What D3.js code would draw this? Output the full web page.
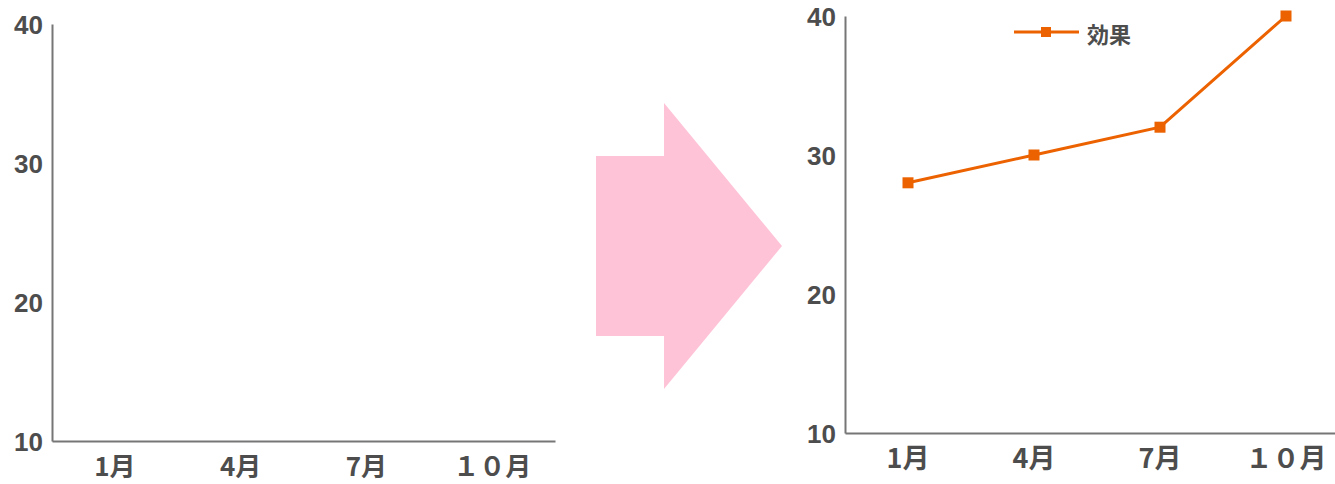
<!DOCTYPE html>
<html><head><meta charset="utf-8">
<script src="https://cdn.jsdelivr.net/npm/d3@7"></script>
<style>
html,body{margin:0;padding:0;background:#fff;}
svg{display:block;}
text{font-family:"Noto Sans CJK JP","Noto Sans",sans-serif;font-weight:700;fill:#4d4d4d;}
.ytick text{font-family:"Liberation Sans",Arial,sans-serif;}
</style></head>
<body>
<svg id="c" width="1335" height="484"></svg>
<script>
const categories = ["1月", "4月", "7月", "１０月"];
const effectValues = [28, 30, 32, 40];
const yTicks = [10, 20, 30, 40];
const seriesName = "効果";

const svg = d3.select("#c");
const axisColor = "#767676";
const lineColor = "#ec6200";

function drawAxes(g, x, y, xLabelOffset, xFont) {
  // y axis
  const ya = g.append("g").attr("class", "ytick").attr("transform", `translate(${x.range()[0]},0)`)
    .call(d3.axisLeft(y).tickValues(yTicks).tickSize(0).tickPadding(9).tickFormat(d3.format("d")));
  ya.select(".domain").attr("stroke", axisColor).attr("stroke-width", 2);
  ya.selectAll("text").style("font-size", "26px").attr("dy", "0.36em").attr("fill", "#4d4d4d");
  // x axis
  const xa = g.append("g").attr("transform", `translate(0,${y.range()[0]})`)
    .call(d3.axisBottom(x).tickSize(0).tickPadding(xLabelOffset));
  xa.select(".domain").attr("stroke", axisColor).attr("stroke-width", 2);
  xa.selectAll("text").style("font-size", xFont + "px").attr("dy", "0.36em").attr("fill", "#4d4d4d");
}

// Left (empty) chart
const xL = d3.scaleBand().domain(categories).range([52, 555]);
const yL = d3.scaleLinear().domain([10, 40]).range([441, 24]);
drawAxes(svg.append("g"), xL, yL, 26, 26);

// Arrow
const arrow = d3.path();
arrow.moveTo(596, 156); arrow.lineTo(664, 156); arrow.lineTo(664, 103);
arrow.lineTo(782, 246); arrow.lineTo(664, 389); arrow.lineTo(664, 336);
arrow.lineTo(596, 336); arrow.closePath();
svg.append("path").attr("d", arrow.toString()).attr("fill", "#ffc3d8");

// Right chart
const xR = d3.scaleBand().domain(categories).range([845, 1349]);
const yR = d3.scaleLinear().domain([10, 40]).range([433, 16]);
const gR = svg.append("g");
drawAxes(gR, xR, yR, 25, 27);

const pts = categories.map((c, i) => ({c, v: effectValues[i]}));
const line = d3.line().x(d => xR(d.c) + xR.bandwidth() / 2).y(d => yR(d.v));
gR.append("path").datum(pts).attr("d", line).attr("fill", "none")
  .attr("stroke", lineColor).attr("stroke-width", 3);
const ms = 11;
gR.selectAll("rect.m").data(pts).enter().append("rect").attr("class", "m")
  .attr("x", d => xR(d.c) + xR.bandwidth() / 2 - ms / 2)
  .attr("y", d => yR(d.v) - ms / 2)
  .attr("width", ms).attr("height", ms).attr("fill", lineColor);

// Legend
const lg = svg.append("g").attr("transform", "translate(1014,32)");
lg.append("line").attr("x1", 0).attr("x2", 65).attr("y1", 0).attr("y2", 0)
  .attr("stroke", lineColor).attr("stroke-width", 3);
lg.append("rect").attr("x", 32 - 5).attr("y", -5).attr("width", 10).attr("height", 10).attr("fill", lineColor);
lg.append("text").attr("x", 73).attr("y", 3).attr("dy", "0.35em").style("font-size", "22px").text(seriesName);
</script>
</body></html>
